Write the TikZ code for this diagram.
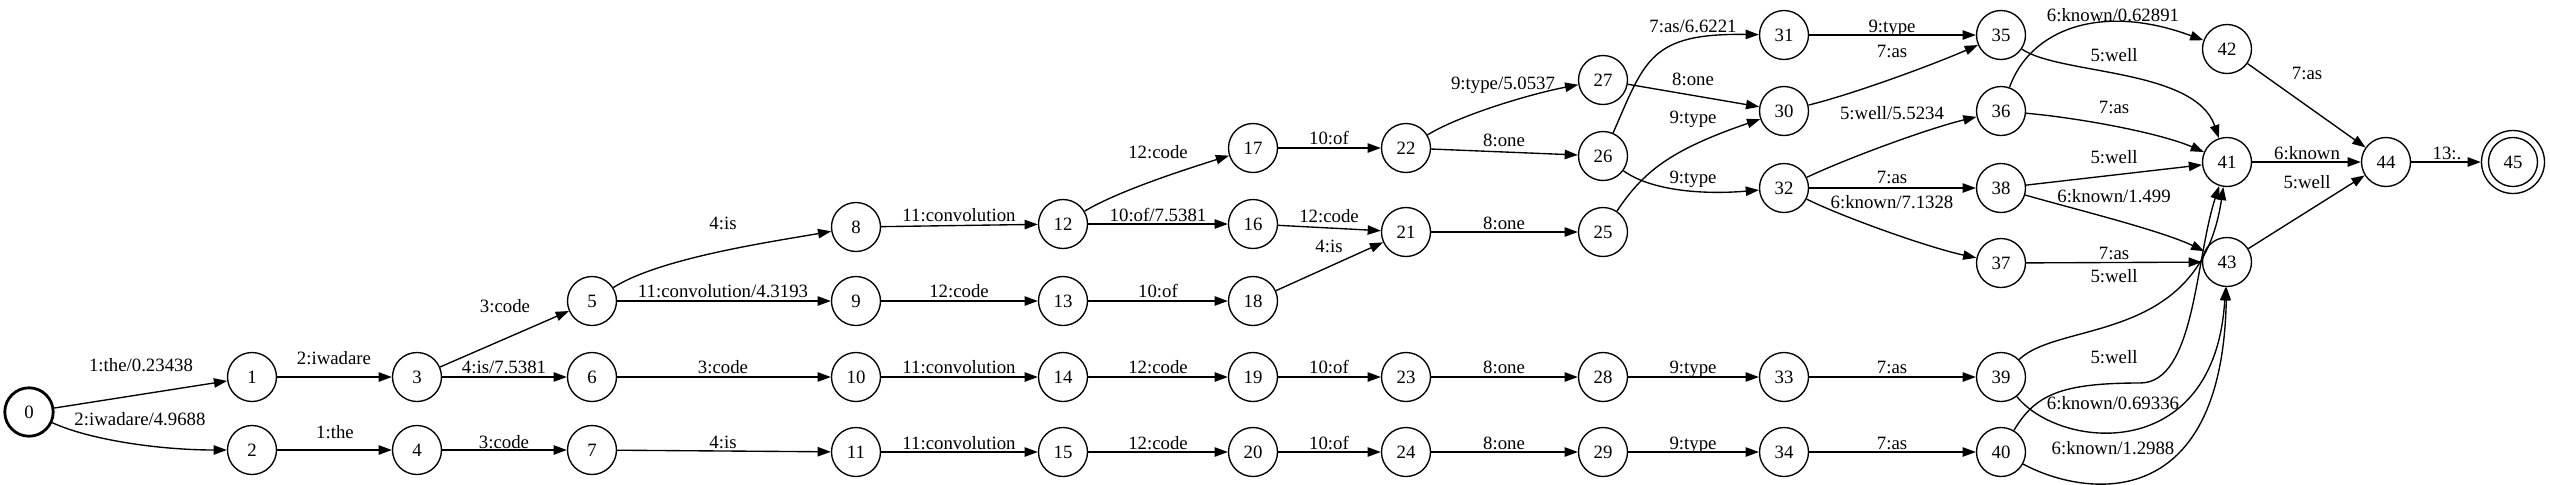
\documentclass[tikz,border=0pt]{standalone}
\usepackage{fontspec}
\setmainfont{Liberation Serif}
\usetikzlibrary{arrows.meta}
\begin{document}
\begin{tikzpicture}[x=0.5pt,y=-0.5pt,
  st/.style={circle,draw,line width=0.68pt,minimum size=24.5pt,inner sep=0pt,font=\fontsize{9.4}{11}\selectfont},
  init/.style={st,line width=1.4pt,minimum size=24.2pt},
  fin/.style={st,minimum size=31.5pt},
  lbl/.style={inner sep=0pt,text height=6.35pt,text depth=0pt,font=\fontsize{9.4}{11}\selectfont},
  ed/.style={line width=0.68pt,-{Triangle[length=6.6pt,width=4.7pt]}}
]
\useasboundingbox (0,0) rectangle (2550,484);
% states
\node[init] (n0) at (29,412) {0};
\node[st] (n1) at (252,377) {1};
\node[st] (n2) at (252,450) {2};
\node[st] (n3) at (417,377) {3};
\node[st] (n4) at (417,450) {4};
\node[st] (n5) at (592,301) {5};
\node[st] (n6) at (592,377) {6};
\node[st] (n7) at (592,450) {7};
\node[st] (n8) at (856,227) {8};
\node[st] (n9) at (856,301) {9};
\node[st] (n10) at (856,377) {10};
\node[st] (n11) at (856,452) {11};
\node[st] (n12) at (1063,224) {12};
\node[st] (n13) at (1063,301) {13};
\node[st] (n14) at (1063,377) {14};
\node[st] (n15) at (1063,452) {15};
\node[st] (n16) at (1253,224) {16};
\node[st] (n17) at (1253,148) {17};
\node[st] (n18) at (1253,301) {18};
\node[st] (n19) at (1253,377) {19};
\node[st] (n20) at (1253,452) {20};
\node[st] (n21) at (1406,232) {21};
\node[st] (n22) at (1406,148) {22};
\node[st] (n23) at (1406,377) {23};
\node[st] (n24) at (1406,452) {24};
\node[st] (n25) at (1603,232) {25};
\node[st] (n26) at (1603,156) {26};
\node[st] (n27) at (1603,80) {27};
\node[st] (n28) at (1603,377) {28};
\node[st] (n29) at (1603,452) {29};
\node[st] (n30) at (1784,111) {30};
\node[st] (n31) at (1784,35) {31};
\node[st] (n32) at (1784,188) {32};
\node[st] (n33) at (1784,377) {33};
\node[st] (n34) at (1784,452) {34};
\node[st] (n35) at (2001,35) {35};
\node[st] (n36) at (2001,111) {36};
\node[st] (n37) at (2001,263) {37};
\node[st] (n38) at (2001,188) {38};
\node[st] (n39) at (2001,377) {39};
\node[st] (n40) at (2001,452) {40};
\node[st] (n41) at (2227,162) {41};
\node[st] (n42) at (2227,49) {42};
\node[st] (n43) at (2227,262) {43};
\node[st] (n44) at (2386,162) {44};
\node[fin] (n45) at (2513,162) {45};
\draw[line width=0.68pt] (n45.center) circle[radius=24.5];
\coordinate (w1) at (2140,383);
% arcs
\draw[ed] (n0) -- (n1);
\draw[ed] (n0) .. controls (90,440) and (160,450) .. (n2);
\draw[ed] (n1) -- (n3);
\draw[ed] (n2) -- (n4);
\draw[ed] (n3) -- (n5);
\draw[ed] (n3) -- (n6);
\draw[ed] (n4) -- (n7);
\draw[ed] (n5) .. controls (660,258) and (770,242) .. (n8);
\draw[ed] (n5) -- (n9);
\draw[ed] (n6) -- (n10);
\draw[ed] (n7) -- (n11);
\draw[ed] (n8) -- (n12);
\draw[ed] (n9) -- (n13);
\draw[ed] (n10) -- (n14);
\draw[ed] (n11) -- (n15);
\draw[ed] (n12) .. controls (1120,190) and (1190,168) .. (n17);
\draw[ed] (n12) -- (n16);
\draw[ed] (n13) -- (n18);
\draw[ed] (n14) -- (n19);
\draw[ed] (n15) -- (n20);
\draw[ed] (n17) -- (n22);
\draw[ed] (n16) -- (n21);
\draw[ed] (n18) -- (n21);
\draw[ed] (n19) -- (n23);
\draw[ed] (n20) -- (n24);
\draw[ed] (n22) .. controls (1460,115) and (1530,94) .. (n27);
\draw[ed] (n22) -- (n26);
\draw[ed] (n21) -- (n25);
\draw[ed] (n23) -- (n28);
\draw[ed] (n24) -- (n29);
\draw[ed] (n26) .. controls (1645,60) and (1650,33) .. (n31);
\draw[ed] (n27) -- (n30);
\draw[ed] (n25) .. controls (1643,172) and (1670,150) .. (n30);
\draw[ed] (n26) .. controls (1650,190) and (1700,195) .. (n32);
\draw[ed] (n28) -- (n33);
\draw[ed] (n29) -- (n34);
\draw[ed] (n31) -- (n35);
\draw[ed] (n30) .. controls (1850,95) and (1930,66) .. (n35);
\draw[ed] (n32) .. controls (1850,157) and (1930,128) .. (n36);
\draw[ed] (n32) -- (n38);
\draw[ed] (n32) .. controls (1845,218) and (1930,248) .. (n37);
\draw[ed] (n33) -- (n39);
\draw[ed] (n34) -- (n40);
\draw[ed] (n36) .. controls (2030,30) and (2100,2) .. (n42);
\draw[ed] (n35) .. controls (2060,75) and (2195,68) .. (n41);
\draw[ed] (n36) .. controls (2080,118) and (2160,133) .. (n41);
\draw[ed] (n38) -- (n41);
\draw[ed] (n38) .. controls (2070,208) and (2160,230) .. (n43);
\draw[ed] (n37) -- (n43);
\draw[ed] (n39) .. controls (2060,320) and (2200,345) .. (n41);
\draw[ed] (n40) .. controls (2035,395) and (2060,383) .. (w1) .. controls (2195,383) and (2195,260) .. (n41);
\draw[ed] (n39) .. controls (2060,450) and (2215,465) .. (n43);
\draw[ed] (n40) .. controls (2080,495) and (2222,520) .. (n43);
\draw[ed] (n42) -- (n44);
\draw[ed] (n41) -- (n44);
\draw[ed] (n43) -- (n44);
\draw[ed] (n44) -- (n45);
% labels
\node[lbl] (L01) at (141,365) {1:the/0.23438};
\node[lbl] (L02) at (140,419) {2:iwadare/4.9688};
\node[lbl] (L13) at (334,358) {2:iwadare};
\node[lbl] (L24) at (335,432) {1:the};
\node[lbl] (L35) at (505,306) {3:code};
\node[lbl] (L36) at (504,367) {4:is/7.5381};
\node[lbl] (L47) at (504,442) {3:code};
\node[lbl] (L58) at (723,223) {4:is};
\node[lbl] (L59) at (723,291) {11:convolution/4.3193};
\node[lbl] (L610) at (723,367) {3:code};
\node[lbl] (L711) at (723,442) {4:is};
\node[lbl] (L812) at (959,215) {11:convolution};
\node[lbl] (L913) at (959,291) {12:code};
\node[lbl] (L1014) at (959,367) {11:convolution};
\node[lbl] (L1115) at (959,443) {11:convolution};
\node[lbl] (L1217) at (1158,152) {12:code};
\node[lbl] (L1216) at (1158,215) {10:of/7.5381};
\node[lbl] (L1318) at (1158,291) {10:of};
\node[lbl] (L1419) at (1158,367) {12:code};
\node[lbl] (L1520) at (1158,443) {12:code};
\node[lbl] (L1722) at (1329,138) {10:of};
\node[lbl] (L1621) at (1329,216) {12:code};
\node[lbl] (L1821) at (1329,246) {4:is};
\node[lbl] (L1923) at (1329,367) {10:of};
\node[lbl] (L2024) at (1329,443) {10:of};
\node[lbl] (L2227) at (1503,83) {9:type/5.0537};
\node[lbl] (L2226) at (1504,140) {8:one};
\node[lbl] (L2125) at (1504,223) {8:one};
\node[lbl] (L2328) at (1504,367) {8:one};
\node[lbl] (L2429) at (1504,443) {8:one};
\node[lbl] (L2631) at (1693,26) {7:as/6.6221};
\node[lbl] (L2730) at (1693,79) {8:one};
\node[lbl] (L2530) at (1693,117) {9:type};
\node[lbl] (L2632) at (1693,177) {9:type};
\node[lbl] (L2833) at (1693,367) {9:type};
\node[lbl] (L2934) at (1693,443) {9:type};
\node[lbl] (L3135) at (1892,26) {9:type};
\node[lbl] (L3035) at (1892,51) {7:as};
\node[lbl] (L3236) at (1892,113) {5:well/5.5234};
\node[lbl] (L3238) at (1892,177) {7:as};
\node[lbl] (L3237) at (1892,202) {6:known/7.1328};
\node[lbl] (L3339) at (1892,367) {7:as};
\node[lbl] (L3440) at (1892,443) {7:as};
\node[lbl] (L3642) at (2113,15) {6:known/0.62891};
\node[lbl] (L3541) at (2114,55) {5:well};
\node[lbl] (L3641) at (2114,107) {7:as};
\node[lbl] (L3841) at (2114,157) {5:well};
\node[lbl] (L3843) at (2114,196) {6:known/1.499};
\node[lbl] (L3743) at (2114,253) {7:as};
\node[lbl] (L3941) at (2114,276) {5:well};
\node[lbl] (L4041) at (2114,357) {5:well};
\node[lbl] (L3943) at (2113,403) {6:known/0.69336};
\node[lbl] (L4043) at (2113,448) {6:known/1.2988};
\node[lbl] (L4244) at (2307,73) {7:as};
\node[lbl] (L4144) at (2307,153) {6:known};
\node[lbl] (L4344) at (2307,182) {5:well};
\node[lbl] (L4445) at (2447,153) {13:.};
\end{tikzpicture}
\end{document}
